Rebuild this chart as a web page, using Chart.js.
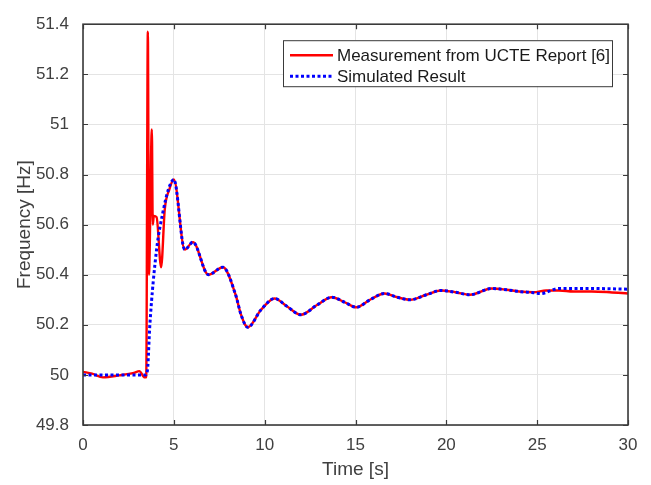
<!DOCTYPE html>
<html>
<head>
<meta charset="utf-8">
<script src="https://cdn.jsdelivr.net/npm/chart.js@4.4.0/dist/chart.umd.min.js"></script>
<style>
  body { margin: 0; background: #fff; }
  #wrap { width: 651px; height: 485px; }
</style>
</head>
<body>
<div id="wrap"><canvas id="freqChart" width="651" height="485"></canvas></div>
<script>
const measTime = [0, 0.5, 1.1, 2.0, 2.8, 3.1, 3.4, 3.48, 3.57, 3.63, 3.79, 3.84, 3.9, 4.05, 4.3, 4.5, 4.75, 5.0,
  5.6, 6.05, 6.9, 7.7, 8.4, 8.7, 9.07, 9.8, 10.55, 11.2, 12.0, 12.9, 13.7, 14.4, 15.05, 15.8, 16.6, 17.3, 18.0,
  18.9, 19.7, 20.5, 21.3, 22.5, 23.3, 24.0, 24.8, 25.5, 26.2, 27.0, 28.0, 29.0, 30.0];
const measFreq = [50.012, 50.005, 49.99, 49.998, 50.008, 50.015, 49.99, 49.99, 51.37, 50.40, 50.98, 50.60, 50.635, 50.63, 50.43, 50.66, 50.74, 50.78,
  50.50, 50.53, 50.40, 50.43, 50.32, 50.24, 50.19, 50.26, 50.305, 50.275, 50.24, 50.28, 50.31, 50.29, 50.27, 50.30, 50.325, 50.31, 50.30,
  50.32, 50.337, 50.33, 50.32, 50.345, 50.34, 50.333, 50.33, 50.337, 50.337, 50.333, 50.333, 50.33, 50.325];

// simulated result
const simTime = [0, 1.0, 2.0, 3.0, 3.45, 3.55, 3.68, 4.05, 4.4, 4.7, 5.0,
  5.6, 6.05, 6.9, 7.7, 8.4, 8.7, 9.07, 9.8, 10.55, 11.2, 12.0, 12.9, 13.7, 14.4, 15.05, 15.8, 16.6, 17.3, 18.0,
  18.9, 19.7, 20.5, 21.3, 22.5, 23.3, 24.0, 24.8, 25.2, 26.2, 27.0, 28.0, 29.0, 30.0];
const simFreq = [50.0, 50.0, 50.0, 50.0, 50.0, 50.02, 50.2, 50.5, 50.65, 50.74, 50.78,
  50.50, 50.53, 50.40, 50.43, 50.32, 50.24, 50.19, 50.26, 50.305, 50.275, 50.24, 50.28, 50.31, 50.29, 50.27, 50.30, 50.325, 50.31, 50.30,
  50.32, 50.337, 50.33, 50.32, 50.345, 50.34, 50.333, 50.328, 50.325, 50.345, 50.345, 50.345, 50.344, 50.342];

const legendLabels = ["Measurement from UCTE Report [6]", "Simulated Result"];

const axisColor = "#3a3a3a";
const fontFamily = "'Liberation Sans', Arial, Helvetica, sans-serif";

Chart.defaults.font.family = fontFamily;
Chart.defaults.color = "#404040";

function toPoints(xs, ys) {
    return xs.map((x, i) => ({ x: x, y: ys[i] }));
}

// box round the plot with inward ticks on all four sides, plus the legend
const matlabBox = {
    id: "matlabBox",
    afterDraw(chart) {
        const ctx = chart.ctx;
        const ca = chart.chartArea;
        const xs = chart.scales.x;
        const ys = chart.scales.y;
        const tick = 5;

        ctx.save();
        ctx.strokeStyle = axisColor;
        ctx.lineWidth = 1.2;
        ctx.beginPath();
        xs.ticks.forEach(t => {
            const px = Math.round(xs.getPixelForValue(t.value)) + 0.5;
            ctx.moveTo(px, ca.bottom); ctx.lineTo(px, ca.bottom - tick);
            ctx.moveTo(px, ca.top); ctx.lineTo(px, ca.top + tick);
        });
        ys.ticks.forEach(t => {
            const py = Math.round(ys.getPixelForValue(t.value)) + 0.5;
            ctx.moveTo(ca.left, py); ctx.lineTo(ca.left + tick, py);
            ctx.moveTo(ca.right, py); ctx.lineTo(ca.right - tick, py);
        });
        ctx.stroke();
        ctx.lineWidth = 1.6;
        ctx.strokeRect(ca.left, ca.top, ca.right - ca.left, ca.bottom - ca.top);

        // legend
        const lx = ca.right - 345, ly = ca.top + 16, lw = 329, lh = 46;
        ctx.fillStyle = "#fff";
        ctx.fillRect(lx, ly, lw, lh);
        ctx.lineWidth = 1;
        ctx.strokeStyle = axisColor;
        ctx.strokeRect(lx + 0.5, ly + 0.5, lw, lh);

        ctx.font = "17px " + fontFamily;
        ctx.textBaseline = "middle";
        ctx.textAlign = "left";
        chart.data.datasets.forEach((ds, i) => {
            const y = ly + 15 + i * 21;
            ctx.beginPath();
            ctx.strokeStyle = ds.borderColor;
            ctx.lineWidth = ds.borderWidth;
            ctx.setLineDash(ds.borderDash || []);
            ctx.moveTo(lx + 7, y);
            ctx.lineTo(lx + 50, y);
            ctx.stroke();
            ctx.setLineDash([]);
            ctx.fillStyle = "#1a1a1a";
            ctx.fillText(legendLabels[i], lx + 54, y + 1);
        });
        ctx.restore();
    }
};

new Chart(document.getElementById("freqChart"), {
    type: "line",
    data: {
        datasets: [{
            label: legendLabels[0],
            data: toPoints(measTime, measFreq),
            borderColor: "#ff0000",
            borderWidth: 2.4,
            pointRadius: 0,
            cubicInterpolationMode: "monotone",
            order: 2
        }, {
            label: legendLabels[1],
            data: toPoints(simTime, simFreq),
            borderColor: "#0000ff",
            borderWidth: 3,
            borderDash: [3, 2.5],
            pointRadius: 0,
            cubicInterpolationMode: "monotone",
            order: 1
        }]
    },
    options: {
        responsive: false,
        animation: false,
        layout: { padding: { left: 0, top: 17, right: 23, bottom: 0 } },
        plugins: {
            legend: { display: false },
            tooltip: { enabled: false }
        },
        scales: {
            x: {
                type: "linear",
                min: 0,
                max: 30,
                afterFit(scale) { scale.height = 60; },
                ticks: { stepSize: 5, padding: 10, font: { size: 17 }, maxRotation: 0 },
                grid: { color: "#e4e4e4", drawTicks: false },
                border: { display: false },
                title: { display: true, text: "Time [s]", font: { size: 19 }, padding: { top: 0, bottom: 4 } }
            },
            y: {
                min: 49.8,
                max: 51.4,
                afterFit(scale) { scale.width = 83; },
                ticks: {
                    stepSize: 0.2,
                    padding: 14,
                    font: { size: 17 },
                    callback: v => String(Number(v.toFixed(1)))
                },
                grid: { color: "#e4e4e4", drawTicks: false },
                border: { display: false },
                title: { display: true, text: "Frequency [Hz]", font: { size: 19 }, padding: { top: 13, bottom: 0 } }
            }
        }
    },
    plugins: [matlabBox]
});
</script>
</body>
</html>
